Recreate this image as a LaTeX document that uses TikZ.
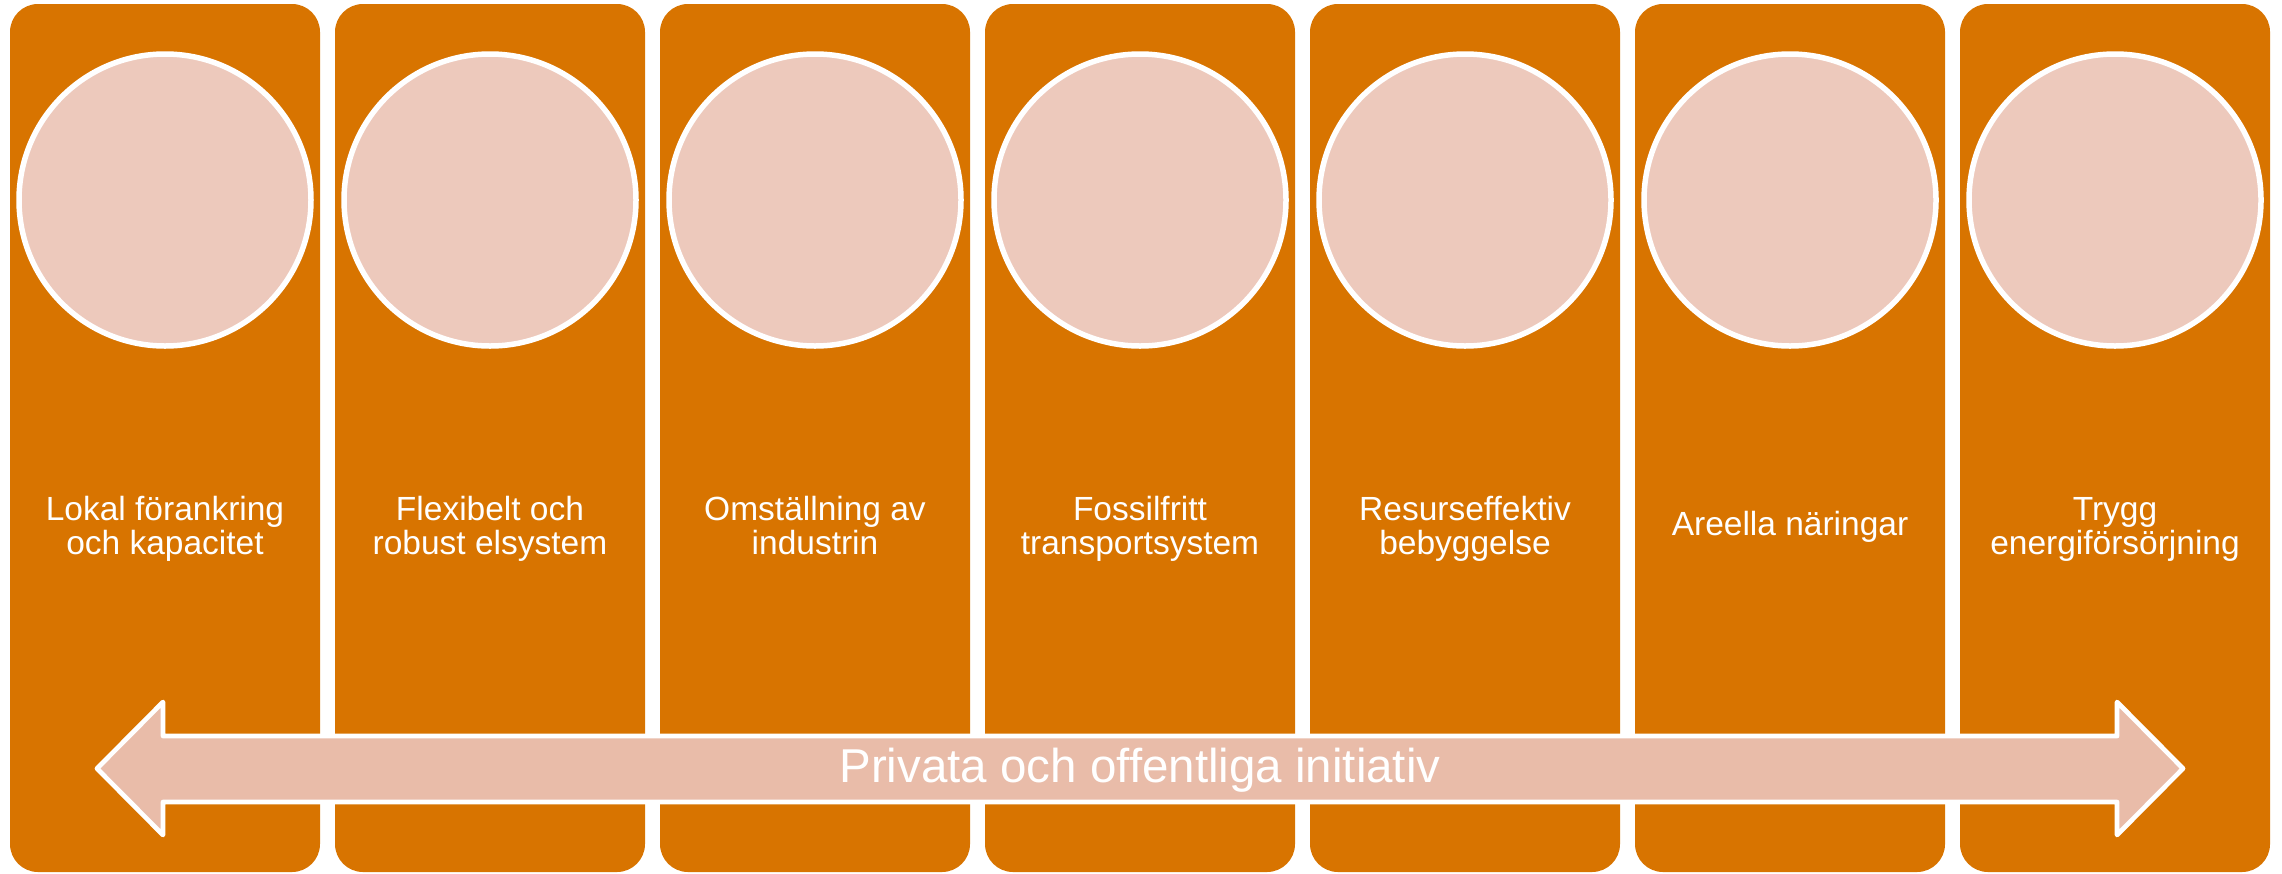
\documentclass[tikz,border=0pt]{standalone}
\usepackage{fontspec}
\setmainfont{Liberation Sans}
\definecolor{colorange}{RGB}{216,116,0}
\definecolor{circfill}{RGB}{237,201,188}
\definecolor{arrowfill}{RGB}{233,188,169}
\tikzset{
  col/.style={fill=colorange, draw=none, rounded corners=28pt, minimum width=310pt, minimum height=868pt, inner sep=0pt},
  circ/.style={circle, fill=circfill, draw=white, line width=5.5pt, minimum size=292pt, inner sep=0pt},
  lbl/.style={text=white, inner sep=0pt, anchor=base, font=\fontsize{33.5}{34}\selectfont},
  bigarrow/.style={fill=arrowfill, draw=white, line width=4.7pt, line join=round},
  biglbl/.style={text=white, inner sep=0pt, anchor=base, font=\fontsize{47.5}{50}\selectfont}
}
\newcommand{\twolines}[2]{\begin{tabular}[t]{@{}c@{}}#1\\#2\end{tabular}}
\begin{document}
\begin{tikzpicture}[x=1pt,y=-1pt]
  \useasboundingbox (0,0) rectangle (2282,873);
  \foreach \i in {1,...,7} {
    \pgfmathsetmacro{\cx}{165+325*(\i-1)}
    \node[col] (c\i) at (\cx,438) {};
    \node[circ] (k\i) at (\cx,200) {};
  }
  \node[lbl] (t1) at (165,520) {\twolines{Lokal förankring}{och kapacitet}};
  \node[lbl] (t2) at (490,520) {\twolines{Flexibelt och}{robust elsystem}};
  \node[lbl] (t3) at (815,520) {\twolines{Omställning av}{industrin}};
  \node[lbl] (t4) at (1140,520) {\twolines{Fossilfritt}{transportsystem}};
  \node[lbl] (t5) at (1465,520) {\twolines{Resurseffektiv}{bebyggelse}};
  \node[lbl] (t6) at (1790,535) {Areella näringar};
  \node[lbl] (t7) at (2115,520) {\twolines{Trygg}{energiförsörjning}};
  \draw[bigarrow] (97,768.5) -- (163,702) -- (163,736) -- (2117,736) -- (2117,702)
    -- (2183,768.5) -- (2117,835) -- (2117,802) -- (163,802) -- (163,835) -- cycle;
  \node[biglbl] (pt) at (1140,782) {Privata och offentliga initiativ};
\end{tikzpicture}
\end{document}
